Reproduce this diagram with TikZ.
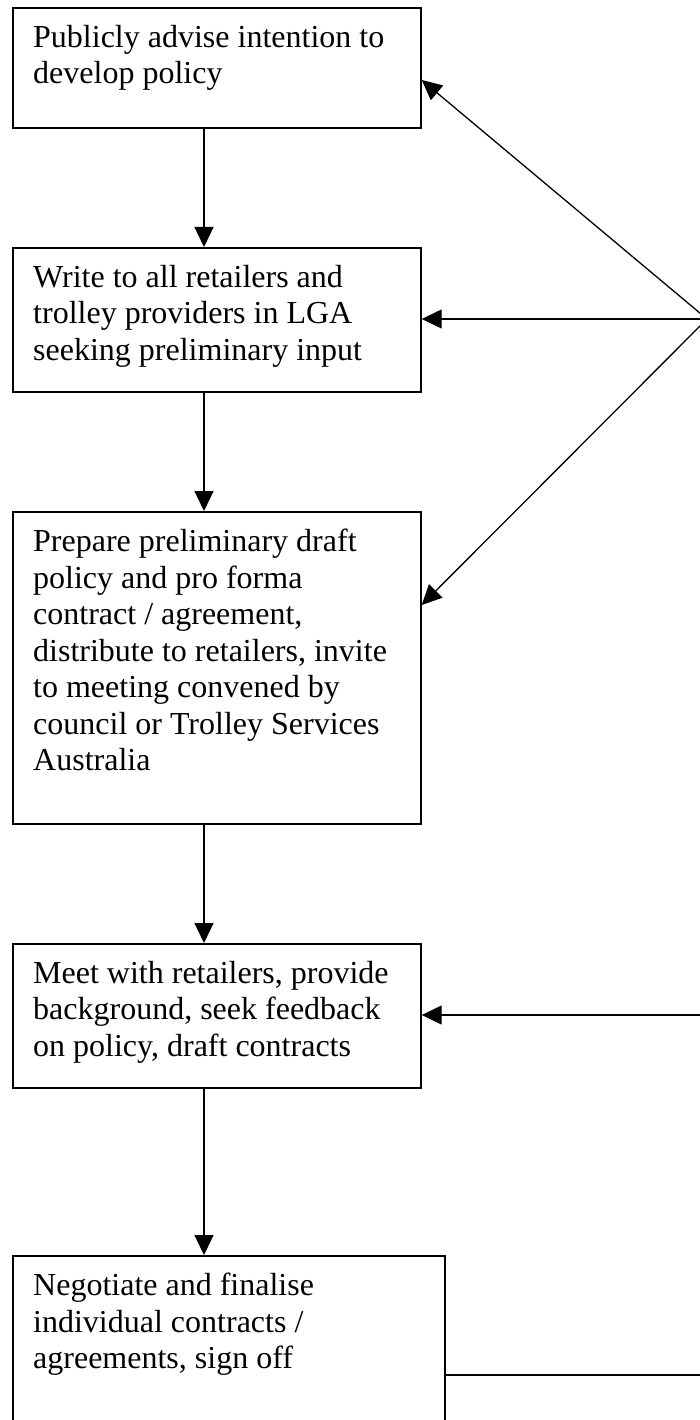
\documentclass[tikz,border=0pt]{standalone}
\usepackage{fontspec}
\setmainfont{Liberation Serif}
\usetikzlibrary{arrows.meta,calc}
\newcommand\firstln{\rule{0pt}{22pt}}
\begin{document}
\begin{tikzpicture}[x=1pt,y=-1pt,
  box/.style={draw=black,line width=1.7pt,rectangle,inner sep=0pt,anchor=north west},
  txt/.style={align=left,inner sep=0pt,anchor=north west,font=\fontsize{32}{36.5}\selectfont},
  arr/.style={draw=black,line width=1.3pt,-{Triangle[length=20pt,width=19pt]}},
  ln/.style={draw=black,line width=1.3pt}]
\useasboundingbox (0,0) rectangle (699,1420);
\fill[white] (0,0) rectangle (699,1420);
% boxes
\node[box,minimum width=408pt,minimum height=120pt] (b1) at (12,7) {};
\node[box,minimum width=408pt,minimum height=144pt] (b2) at (12,247) {};
\node[box,minimum width=408pt,minimum height=312pt] (b3) at (12,511) {};
\node[box,minimum width=408pt,minimum height=144pt] (b4) at (12,943) {};
\node[box,minimum width=432pt,minimum height=200pt] (b5) at (12,1255) {};
% texts
\node[txt] (t1) at (33,25) {\firstln Publicly advise intention to\\develop policy};
\node[txt] (t2) at (33,265) {\firstln Write to all retailers and\\trolley providers in LGA\\seeking preliminary input};
\node[txt] (t3) at (33,529) {\firstln Prepare preliminary draft\\policy and pro forma\\contract / agreement,\\distribute to retailers, invite\\to meeting convened by\\council or Trolley Services\\Australia};
\node[txt] (t4) at (33,961) {\firstln Meet with retailers, provide\\background, seek feedback\\on policy, draft contracts};
\node[txt] (t5) at (33,1273) {\firstln Negotiate and finalise\\individual contracts /\\agreements, sign off};
% helper coordinates
\coordinate (cx) at (204,0);
\coordinate (hub) at (707,319);
\coordinate (r4) at (705,1015);
\coordinate (r5) at (705,1375);
% vertical connectors
\draw[arr] (b1.south -| cx) -- (b2.north -| cx);
\draw[arr] (b2.south -| cx) -- (b3.north -| cx);
\draw[arr] (b3.south -| cx) -- (b4.north -| cx);
\draw[arr] (b4.south -| cx) -- (b5.north -| cx);
% right side connectors
\draw[arr] (hub) -- ($(b1.north east)+(0,73)$);
\draw[arr] (hub) -- ($(b2.north east)+(0,72)$);
\draw[arr] (hub) -- ($(b3.north east)+(0,94)$);
\draw[arr] (r4) -- (b4.east |- r4);
\draw[ln] (b5.east |- r5) -- (r5);
\end{tikzpicture}
\end{document}
